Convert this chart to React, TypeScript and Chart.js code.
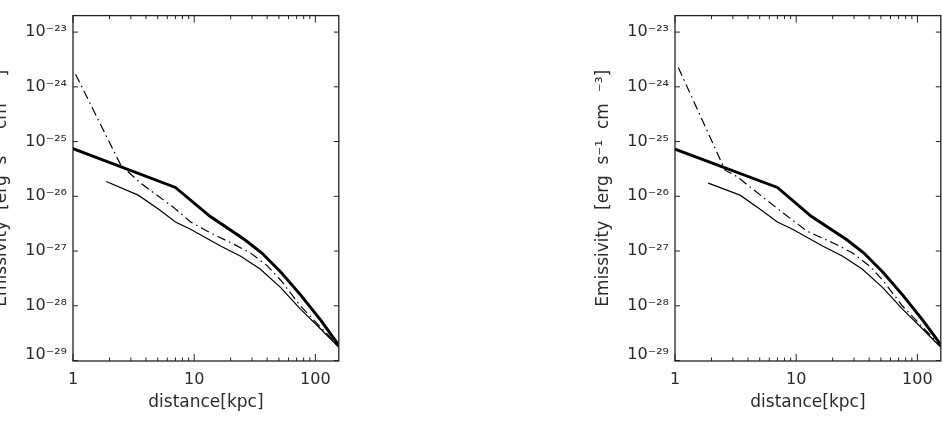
import React, { useEffect, useRef } from "react";
import { Chart, registerables } from "chart.js";

Chart.register(...registerables);

// ---- axis settings ----
const X_TICKS = [1, 10, 100];
const Y_TICKS = [1e-29, 1e-28, 1e-27, 1e-26, 1e-25, 1e-24, 1e-23];
const X_MIN = 1;
const X_MAX = 156;
const Y_MIN = 9.8e-30;
const Y_MAX = 2e-23;
const X_TITLE = "distance[kpc]";
const Y_TITLE = "Emissivity  [erg  s\u207B\u00B9  cm  \u207B\u00B3]";

// ---- left panel data ----
const L_THICK_X = [1, 7.0, 13.5, 26, 36, 52, 76, 111, 156];
const L_THICK_Y = [7.4e-26, 1.45e-26, 4.3e-27, 1.62e-27, 9.3e-28, 4.1e-28, 1.55e-28, 5.4e-29, 1.9e-29];

const L_THIN_X = [1.88, 3.45, 5.1, 7.0, 9.33, 16.5, 24, 35, 51.5, 75, 110, 156];
const L_THIN_Y = [1.86e-26, 1.05e-26, 5.8e-27, 3.4e-27, 2.5e-27, 1.24e-27, 8.1e-28, 4.7e-28, 2.17e-28, 8.8e-29, 3.8e-29, 1.75e-29];

const L_DASH_X = [1.05, 2.48, 3.6, 6.8, 9.33, 13.6, 20, 29, 40, 52, 75, 110, 156];
const L_DASH_Y = [1.7e-24, 3.7e-26, 1.75e-26, 6.2e-27, 3.4e-27, 2.15e-27, 1.42e-27, 9.3e-28, 5.4e-28, 2.9e-28, 1.0e-28, 4.1e-29, 1.85e-29];

// ---- right panel data ----
const R_THICK_X = [1, 7.0, 13.3, 26, 36, 52, 76, 111, 156];
const R_THICK_Y = [7.3e-26, 1.45e-26, 4.3e-27, 1.62e-27, 9.3e-28, 4.1e-28, 1.55e-28, 5.4e-29, 1.95e-29];

const R_THIN_X = [1.88, 3.44, 5.04, 7.0, 9.33, 16.5, 24, 35, 51.5, 75, 110, 156];
const R_THIN_Y = [1.74e-26, 1.05e-26, 5.8e-27, 3.4e-27, 2.5e-27, 1.24e-27, 8.1e-28, 4.7e-28, 2.17e-28, 8.8e-29, 3.8e-29, 1.75e-29];

const R_DASH_X = [1.065, 2.59, 3.24, 6.9, 12.3, 20, 29, 40, 52, 75, 110, 156];
const R_DASH_Y = [2.25e-24, 3.0e-26, 2.3e-26, 6.1e-27, 2.3e-27, 1.42e-27, 9.3e-28, 5.4e-28, 2.9e-28, 1.0e-28, 4.1e-29, 1.85e-29];

const SUP: Record<string, string> = {
  "-": "\u207B", "0": "\u2070", "1": "\u00B9", "2": "\u00B2", "3": "\u00B3",
  "4": "\u2074", "5": "\u2075", "6": "\u2076", "7": "\u2077", "8": "\u2078", "9": "\u2079",
};
const sup = (s: string) => s.split("").map((c) => SUP[c] ?? c).join("");

const FONT = "'DejaVu Sans', 'Liberation Sans', sans-serif";
const TEXT_COLOR = "#2a2a2a";

const frameTicks = {
  id: "frameTicks",
  afterDatasetsDraw(chart: any) {
    const { ctx, chartArea: a, scales } = chart;
    const x = scales.x;
    const y = scales.y;
    ctx.save();
    ctx.strokeStyle = "#222";
    ctx.lineWidth = 1.3;
    ctx.strokeRect(a.left, a.top, a.right - a.left, a.bottom - a.top);
    ctx.lineWidth = 1;
    ctx.beginPath();
    for (let d = 1; d <= 100; d *= 10) {
      for (let m = 1; m <= 9; m++) {
        const v = m * d;
        if (v < X_MIN || v > X_MAX) continue;
        const px = x.getPixelForValue(v);
        const len = m === 1 ? 7 : 3.5;
        ctx.moveTo(px, a.bottom);
        ctx.lineTo(px, a.bottom - len);
        ctx.moveTo(px, a.top);
        ctx.lineTo(px, a.top + len);
      }
    }
    for (const v of Y_TICKS) {
      const py = y.getPixelForValue(v);
      ctx.moveTo(a.left, py);
      ctx.lineTo(a.left + 5, py);
      ctx.moveTo(a.right, py);
      ctx.lineTo(a.right - 5, py);
    }
    ctx.stroke();
    ctx.restore();
  },
};

const pts = (xs: number[], ys: number[]) => xs.map((x, i) => ({ x, y: ys[i] }));

type PanelProps = {
  left: number;
  thick: { x: number[]; y: number[] };
  thin: { x: number[]; y: number[] };
  dash: { x: number[]; y: number[] };
};

const W = 382;
const H = 422;

function Panel({ left, thick, thin, dash }: PanelProps) {
  const ref = useRef<HTMLCanvasElement | null>(null);
  useEffect(() => {
    if (!ref.current) return;
    const chart = new Chart(ref.current, {
      type: "line",
      data: {
        datasets: [
          {
            data: pts(dash.x, dash.y),
            borderColor: "#000",
            borderWidth: 1.2,
            borderDash: [9, 4, 1.5, 4],
            pointRadius: 0,
            tension: 0,
          },
          {
            data: pts(thin.x, thin.y),
            borderColor: "#000",
            borderWidth: 1.2,
            pointRadius: 0,
            tension: 0,
          },
          {
            data: pts(thick.x, thick.y),
            borderColor: "#000",
            borderWidth: 3,
            pointRadius: 0,
            tension: 0,
          },
        ],
      },
      options: {
        animation: false,
        responsive: false,
        events: [],
        layout: { padding: { top: 12.7, right: 1.2, left: 0, bottom: 0 } },
        plugins: { legend: { display: false }, tooltip: { enabled: false } },
        scales: {
          x: {
            type: "logarithmic",
            min: X_MIN,
            max: X_MAX,
            afterBuildTicks: (s: any) => {
              s.ticks = X_TICKS.map((v) => ({ value: v }));
            },
            afterFit: (s: any) => {
              s.height = 61;
            },
            grid: { display: false, drawTicks: false },
            border: { display: false },
            ticks: {
              padding: 9,
              maxRotation: 0,
              autoSkip: false,
              color: TEXT_COLOR,
              font: { family: FONT, size: 16 },
              callback: (v: any) => String(v),
            },
            title: {
              display: true,
              text: X_TITLE,
              color: TEXT_COLOR,
              font: { family: FONT, size: 17 },
              padding: { top: 0, bottom: 9 },
            },
          },
          y: {
            type: "logarithmic",
            min: Y_MIN,
            max: Y_MAX,
            afterBuildTicks: (s: any) => {
              s.ticks = Y_TICKS.map((v) => ({ value: v }));
            },
            afterFit: (s: any) => {
              s.width = 115;
            },
            grid: { display: false, drawTicks: false },
            border: { display: false },
            ticks: {
              padding: 6,
              autoSkip: false,
              color: TEXT_COLOR,
              font: (c: any) =>
                c.index === 0
                  ? { family: FONT, size: 16, lineHeight: 0.65 }
                  : { family: FONT, size: 16 },
              callback: (v: any, i: number) => {
                const s = "10" + sup(String(Math.round(Math.log10(Number(v)))));
                return i === 0 ? [s, ""] : s;
              },
            },
            title: {
              display: true,
              text: Y_TITLE,
              color: TEXT_COLOR,
              font: { family: FONT, size: 17 },
              padding: { top: 33, bottom: 0 },
            },
          },
        },
      },
      plugins: [frameTicks],
    } as any);
    return () => chart.destroy();
  }, []);
  return (
    <canvas
      ref={ref}
      width={W}
      height={H}
      style={{ position: "absolute", left, top: 0, width: W, height: H }}
    />
  );
}

export default function App() {
  return (
    <div
      style={{
        position: "fixed",
        left: 0,
        top: 0,
        width: 942,
        height: 422,
        overflow: "hidden",
        background: "#fff",
      }}
    >
      <Panel
        left={72.5 - 115}
        thick={{ x: L_THICK_X, y: L_THICK_Y }}
        thin={{ x: L_THIN_X, y: L_THIN_Y }}
        dash={{ x: L_DASH_X, y: L_DASH_Y }}
      />
      <Panel
        left={675 - 115}
        thick={{ x: R_THICK_X, y: R_THICK_Y }}
        thin={{ x: R_THIN_X, y: R_THIN_Y }}
        dash={{ x: R_DASH_X, y: R_DASH_Y }}
      />
    </div>
  );
}
